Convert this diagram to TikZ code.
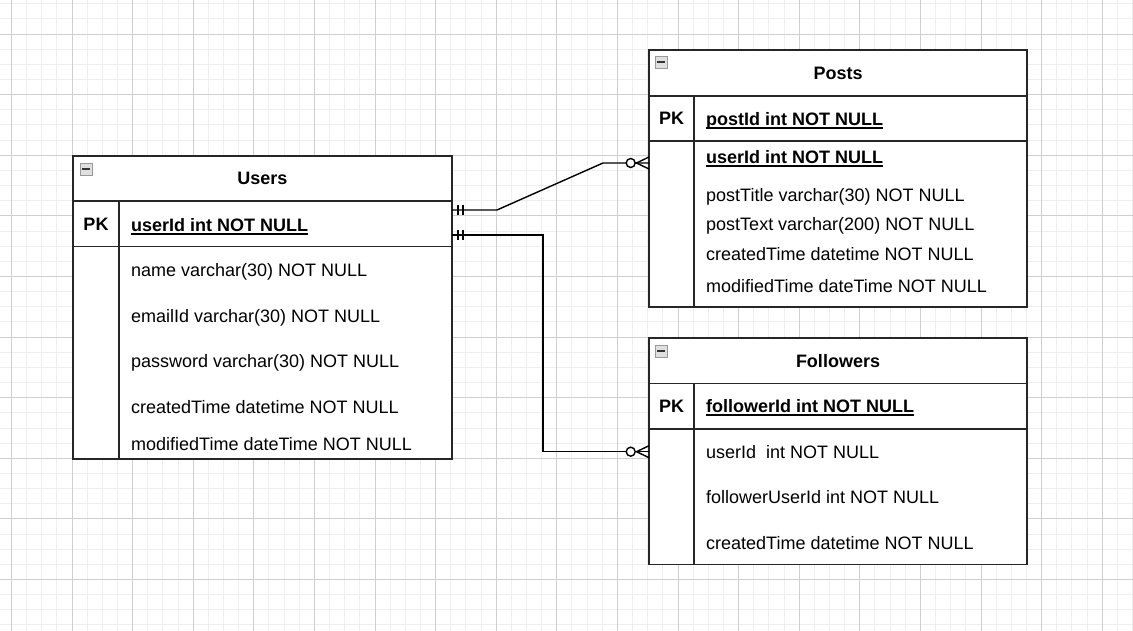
\documentclass[tikz,border=0pt]{standalone}
\usepackage{fontspec}
\setmainfont{Liberation Sans}
\usepackage{tikz}
\usetikzlibrary{positioning}
\tikzset{
    tblbox/.style={
           rectangle,
           draw=black!85, line width=1.6pt,
           fill=white,
           anchor=north west,
           inner sep=0pt, outer sep=0pt,
           minimum width=379pt,
           },
    tblhead/.style={
           tblbox,
           font=\fontsize{18}{22}\selectfont\bfseries,
           },
    tblline/.style={
           draw=black!85, line width=1.6pt,
           },
    fieldrow/.style={
           rectangle,
           anchor=north west,
           inner sep=0pt, outer sep=0pt,
           minimum width=378pt,
           },
    field/.style={
           anchor=west,
           inner sep=0pt,
           text height=13pt, text depth=0pt,
           },
    pklabel/.style={
           font=\fontsize{18}{22}\selectfont\bfseries,
           inner sep=0pt,
           text height=13pt, text depth=0pt,
           },
    minbox/.style={
           rectangle,
           minimum size=12pt, inner sep=0pt,
           draw=gray!80, fill=gray!25,
           path picture={\draw[line width=2pt, black!80]
              ([xshift=-4pt]path picture bounding box.center) --
              ([xshift=4pt]path picture bounding box.center);},
           },
    relation/.style={
           draw=black, line width=1.4pt,
           },
    gridminor/.style={draw=gray!13, line width=0.8pt},
    gridmajor/.style={draw=gray!38, line width=0.8pt},
}
\newcommand{\pkfield}[1]{\setbox0=\hbox{\bfseries #1}\rlap{\rule[-3.2pt]{\wd0}{1.6pt}}\box0}

\begin{document}
\begin{tikzpicture}[x=1pt, y=-1pt, font=\fontsize{18}{22}\selectfont]
	\useasboundingbox (0,0) rectangle (1133,631);
	\fill[white] (0,0) rectangle (1133,631);
	% grid
	\foreach \i in {0,...,74} \draw[gridminor] ({11.3+15.15*\i},0) -- ++(0,631);
	\foreach \i in {0,...,41} \draw[gridminor] (0,{3.7+15.15*\i}) -- ++(1133,0);
	\foreach \i in {0,...,18} \draw[gridmajor] ({11.3+60.6*\i},0) -- ++(0,631);
	\foreach \i in {0,...,9} \draw[gridmajor] (0,{34+60.6*\i}) -- ++(1133,0);

	% Users
	\node[tblbox, minimum height=303pt] (users) at (73,156) {};
	\node[tblhead, minimum height=45pt] (users-head) at (73,156) {Users};
	\node[tblbox, minimum height=45.5pt] (users-pk) at (73,201) {};
	\draw[tblline] ([xshift=46pt]users-pk.north west) -- ([xshift=46pt]users.south west);
	\node[minbox] (users-min) at (86,169.5) {};
	\node[pklabel] (users-pklbl) at ([xshift=23pt]users-pk.west) {PK};
	\node[field] (users-id) at (131,225) {\pkfield{userId int NOT NULL}};
	\node[field] (users-name) at (131,270) {name varchar(30) NOT NULL};
	\node[field] (users-email) at (131,315.7) {emailId varchar(30) NOT NULL};
	\node[field] (users-pwd) at (131,361) {password varchar(30) NOT NULL};
	\node[field] (users-ctime) at (131,406.7) {createdTime datetime NOT NULL};
	\node[field] (users-mtime) at (131,444.3) {modifiedTime dateTime NOT NULL};

	% Posts
	\node[tblbox, minimum height=256.7pt, minimum width=378pt] (posts) at (649,50) {};
	\node[tblhead, minimum height=46pt, minimum width=378pt] (posts-head) at (649,50) {Posts};
	\node[tblbox, minimum height=45pt, minimum width=378pt] (posts-pk) at (649,96) {};
	\draw[tblline] ([xshift=45pt]posts-pk.north west) -- ([xshift=45pt]posts.south west);
	\node[fieldrow, minimum height=44pt] (posts-fk) at (649,141) {};
	\node[minbox] (posts-min) at (661,62.5) {};
	\node[pklabel] (posts-pklbl) at ([xshift=22.5pt]posts-pk.west) {PK};
	\node[field] (posts-id) at (706,119) {\pkfield{postId int NOT NULL}};
	\node[field] (posts-uid) at (706,157) {\pkfield{userId int NOT NULL}};
	\node[field] (posts-title) at (706,195) {postTitle varchar(30) NOT NULL};
	\node[field] (posts-text) at (706,224.3) {postText varchar(200) NOT NULL};
	\node[field] (posts-ctime) at (706,254.3) {createdTime datetime NOT NULL};
	\node[field] (posts-mtime) at (706,285.7) {modifiedTime dateTime NOT NULL};

	% Followers
	\node[tblbox, minimum height=226.3pt, minimum width=378pt] (followers) at (649,338) {};
	\node[tblhead, minimum height=45.3pt, minimum width=378pt] (followers-head) at (649,338) {Followers};
	\node[tblbox, minimum height=45.7pt, minimum width=378pt] (followers-pk) at (649,383.3) {};
	\draw[tblline] ([xshift=45pt]followers-pk.north west) -- ([xshift=45pt]followers.south west);
	\node[fieldrow, minimum height=45.4pt] (followers-fk) at (649,429) {};
	\node[minbox] (followers-min) at (661,351) {};
	\node[pklabel] (followers-pklbl) at ([xshift=22.5pt]followers-pk.west) {PK};
	\node[field] (followers-id) at (706,406) {\pkfield{followerId int NOT NULL}};
	\node[field] (followers-uid) at (706,451.7) {userId\ \ int NOT NULL};
	\node[field] (followers-fuid) at (706,497.3) {followerUserId int NOT NULL};
	\node[field] (followers-ctime) at (706,542.7) {createdTime datetime NOT NULL};

	% relations
	\coordinate (users-a) at ([yshift=13.75pt]users-pk.east);
	\coordinate (users-b) at ([yshift=-11.25pt]users-pk.east);
	\draw[relation] (users-a) -- ++(45,0) -- ([xshift=-46pt]posts-fk.west) -- (posts-fk.west);
	\draw[relation] (users-b) -- ++(91,0) |- (followers-fk.west);
	\foreach \p in {users-a,users-b} {
		\draw[relation] ([shift={(6,-5)}]\p) -- ++(0,10);
		\draw[relation] ([shift={(11,-5)}]\p) -- ++(0,10);
	}
	\foreach \p in {posts-fk,followers-fk} {
		\draw[relation] ([yshift=6pt]\p.west) -- ([xshift=-12.5pt]\p.west) -- ([yshift=-6pt]\p.west);
		\draw[relation, fill=white] ([xshift=-18.3pt]\p.west) circle[radius=4.5pt];
	}
\end{tikzpicture}
\end{document}
